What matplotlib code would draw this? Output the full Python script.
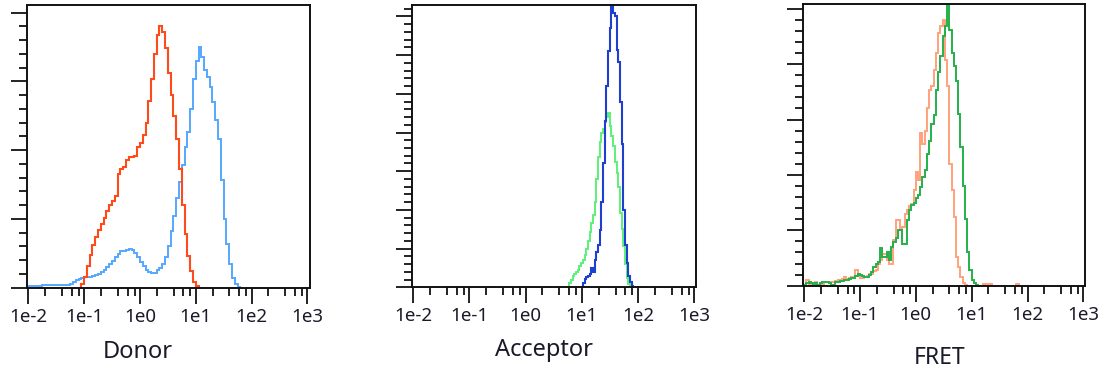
import numpy as np
import matplotlib
matplotlib.use("Agg")
from matplotlib import pyplot as plt
from matplotlib.ticker import FixedLocator, LogLocator, NullFormatter

# histogram values, one value per bin; bins are equal width in log10 units
# Donor panel
donor_red_start, donor_red_step = -1.05, 0.05
donor_red = [0.3, 0.8, 1.6, 2.4, 3.1, 3.7, 4.2, 4.6, 5.1, 5.6, 6.0, 6.3, 6.7,
             8.3, 8.6, 8.8, 9.3, 9.5, 9.5, 9.6, 10.2, 10.5, 11.1, 12.0, 13.6,
             15.2, 17.0, 18.4, 19.0, 18.6, 17.4, 15.6, 14.0, 12.5, 10.8, 8.6,
             6.0, 3.9, 2.3, 1.2, 0.4, 0.1]
donor_blue_start, donor_blue_step = -2.0, 0.05
donor_blue = [0.1, 0.1, 0.1, 0.1, 0.1, 0.2, 0.2, 0.2, 0.2, 0.2, 0.2, 0.2, 0.2,
              0.2, 0.2, 0.3, 0.4, 0.55, 0.65, 0.7, 0.75, 0.8, 0.8, 0.85, 0.9,
              1.0, 1.15, 1.3, 1.5, 1.7, 1.95, 2.2, 2.45, 2.65, 2.7, 2.75, 2.8,
              2.75, 2.55, 2.25, 1.9, 1.6, 1.3, 1.15, 1.05, 1.1, 1.25, 1.45,
              1.7, 2.2, 3.0, 4.1, 5.2, 6.5, 7.7, 8.9, 10.2, 11.3, 13.0, 15.2,
              16.5, 17.5, 16.8, 15.8, 15.3, 14.6, 13.5, 12.2, 10.8, 7.8, 5.0,
              3.2, 1.7, 0.7, 0.3, 0.05]

# Acceptor panel
acc_blue_start, acc_blue_step = 1.02, 0.03
acc_blue = [0.6, 1.1, 1.3, 1.5, 1.7, 2.5, 2.0, 3.5, 4.6, 5.5, 7.4, 11.0, 16.0,
            21.5, 26.0, 30.5, 33.5, 36.6, 35.4, 35.0, 30.7, 29.1, 24.0, 18.5,
            10.0, 5.5, 3.2, 1.5, 0.7, 0.2]
acc_green_start, acc_green_step = 0.78, 0.03
acc_green = [0.5, 1.0, 1.4, 1.7, 2.0, 2.3, 2.7, 3.1, 3.5, 4.2, 5.0, 6.0, 7.2,
             8.3, 9.3, 11.0, 14.0, 16.8, 18.8, 20.0, 20.5, 21.3, 22.0, 22.5,
             20.8, 19.6, 18.2, 16.2, 14.8, 13.0, 9.6, 7.5, 5.3, 3.0, 1.2, 0.4]

# FRET panel
fret_green_start, fret_green_step = -2.0, 0.04
fret_green = [0.1, 0.2, 0.3, 0.2, 0.1, 0.2, 0.1, 0.2, 0.3, 0.35, 0.35, 0.2,
              0.1, 0.1, 0.3, 0.35, 0.4, 0.45, 0.5, 0.55, 0.6, 0.65, 0.7, 0.9,
              1.1, 0.95, 0.9, 0.8, 0.8, 1.0, 1.25, 1.7, 2.0, 2.1, 3.4, 2.6,
              2.6, 3.05, 2.3, 3.5, 3.9, 4.3, 5.0, 5.0, 3.8, 3.8, 5.9, 6.8, 7.3,
              7.5, 7.9, 8.2, 8.9, 9.8, 10.4, 11.9, 13.1, 14.6, 15.4, 17.7,
              19.3, 20.7, 22.5, 23.4, 25.8, 23.1, 21.0, 19.8, 18.5, 15.5, 12.5,
              9.0, 6.0, 3.0, 1.4, 0.5, 0.2, 0.1]
fret_orange_start, fret_orange_step = -2.0, 0.04
fret_orange = [0.1, 0.5, 0.1, 0.2, 0.1, 0.3, 0.1, 0.2, 0.1, 0.3, 0.35, 0.3,
               0.35, 0.3, 0.4, 0.5, 0.5, 0.6, 0.75, 0.6, 0.7, 0.8, 0.8, 1.4,
               0.9, 0.65, 0.7, 0.8, 0.9, 1.1, 1.1, 1.3, 1.4, 2.0, 2.3, 2.9,
               2.9, 2.3, 2.0, 2.0, 4.1, 5.9, 5.9, 5.0, 5.3, 6.5, 6.8, 7.2, 7.4,
               8.6, 10.3, 9.5, 13.75, 12.8, 14.0, 16.0, 17.7, 18.0, 19.5, 21.0,
               22.8, 23.4, 24.0, 20.4, 18.0, 11.0, 8.6, 6.2, 2.6, 1.7, 0.8, 0.2,
               0.05, 0.0, 0.0, 0.0, 0.0, 0.0, 0.0, 0.0, 0.15, 0.0, 0.15, 0.15,
               0.0, 0.0, 0.0, 0.0, 0.0, 0.0, 0.0, 0.0, 0.0, 0.0, 0.0, 0.15]

tick_values = [1e-2, 1e-1, 1e0, 1e1, 1e2, 1e3]
tick_labels = ["1e-2", "1e-1", "1e0", "1e1", "1e2", "1e3"]
names = ["Donor", "Acceptor", "FRET"]


def edges(start, step, n):
    return 10 ** (start + step * np.arange(n + 1))


plt.rcParams['font.family'] = ['Noto Sans', 'DejaVu Sans']

fig = plt.figure(figsize=(11.08, 3.77), dpi=100)

boxes = [[0.0244, 0.2369, 0.2554, 0.7499],
         [0.3721, 0.2379, 0.2561, 0.7488],
         [0.7245, 0.2422, 0.2548, 0.7472]]
xlims = [(10 ** -2.023, 10 ** 3.048), (10 ** -2.018, 10 ** 3.036), (10 ** -2.023, 10 ** 3.03)]
ylims = [20.55, 36.47, 25.43]

axes = [fig.add_axes(b) for b in boxes]

a = axes[0]
a.stairs(donor_blue, edges(donor_blue_start, donor_blue_step, len(donor_blue)),
         color="#55a8ff", lw=1.4)
a.stairs(donor_red, edges(donor_red_start, donor_red_step, len(donor_red)),
         color="#ff4a1a", lw=1.5)

a = axes[1]
a.stairs(acc_green, edges(acc_green_start, acc_green_step, len(acc_green)),
         color="#5ef07a", lw=1.4)
a.stairs(acc_blue, edges(acc_blue_start, acc_blue_step, len(acc_blue)),
         color="#1f3fcf", lw=1.5)

a = axes[2]
a.stairs(fret_orange, edges(fret_orange_start, fret_orange_step, len(fret_orange)),
         color="#ffa27c", lw=1.4)
a.stairs(fret_green, edges(fret_green_start, fret_green_step, len(fret_green)),
         color="#24b04a", lw=1.4)

for i, a in enumerate(axes):
    a.set_xscale('log')
    a.set_xlim(*xlims[i])
    a.set_ylim(0, ylims[i])
    a.xaxis.set_major_locator(FixedLocator(tick_values))
    a.set_xticklabels(tick_labels)
    a.xaxis.set_minor_locator(LogLocator(base=10, subs=[2, 4, 6, 8], numticks=20))
    a.xaxis.set_minor_formatter(NullFormatter())
    a.yaxis.set_major_locator(FixedLocator(np.arange(0, ylims[i], 5)))
    a.yaxis.set_minor_locator(FixedLocator(np.arange(0, ylims[i], 1)))
    a.set_yticklabels([])
    a.tick_params(axis='both', which='major', direction='out', length=11.5,
                  width=1.3, color='#111111')
    a.tick_params(axis='both', which='minor', direction='out', length=5.8,
                  width=1.3, color='#111111')
    a.tick_params(axis='x', which='major', labelsize=13.5, pad=3,
                  labelcolor='#1a1a2a')
    for s in a.spines.values():
        s.set_linewidth(1.4)
        s.set_color('#111111')

fig.text(0.1245, 0.066, names[0], ha='center', va='center', fontsize=17, color='#1a1a2a')
fig.text(0.4907, 0.072, names[1], ha='center', va='center', fontsize=17, color='#1a1a2a')
fig.text(0.8484, 0.050, names[2], ha='center', va='center', fontsize=16.5, color='#1a1a2a')

fig.savefig("out.png", dpi=100)
